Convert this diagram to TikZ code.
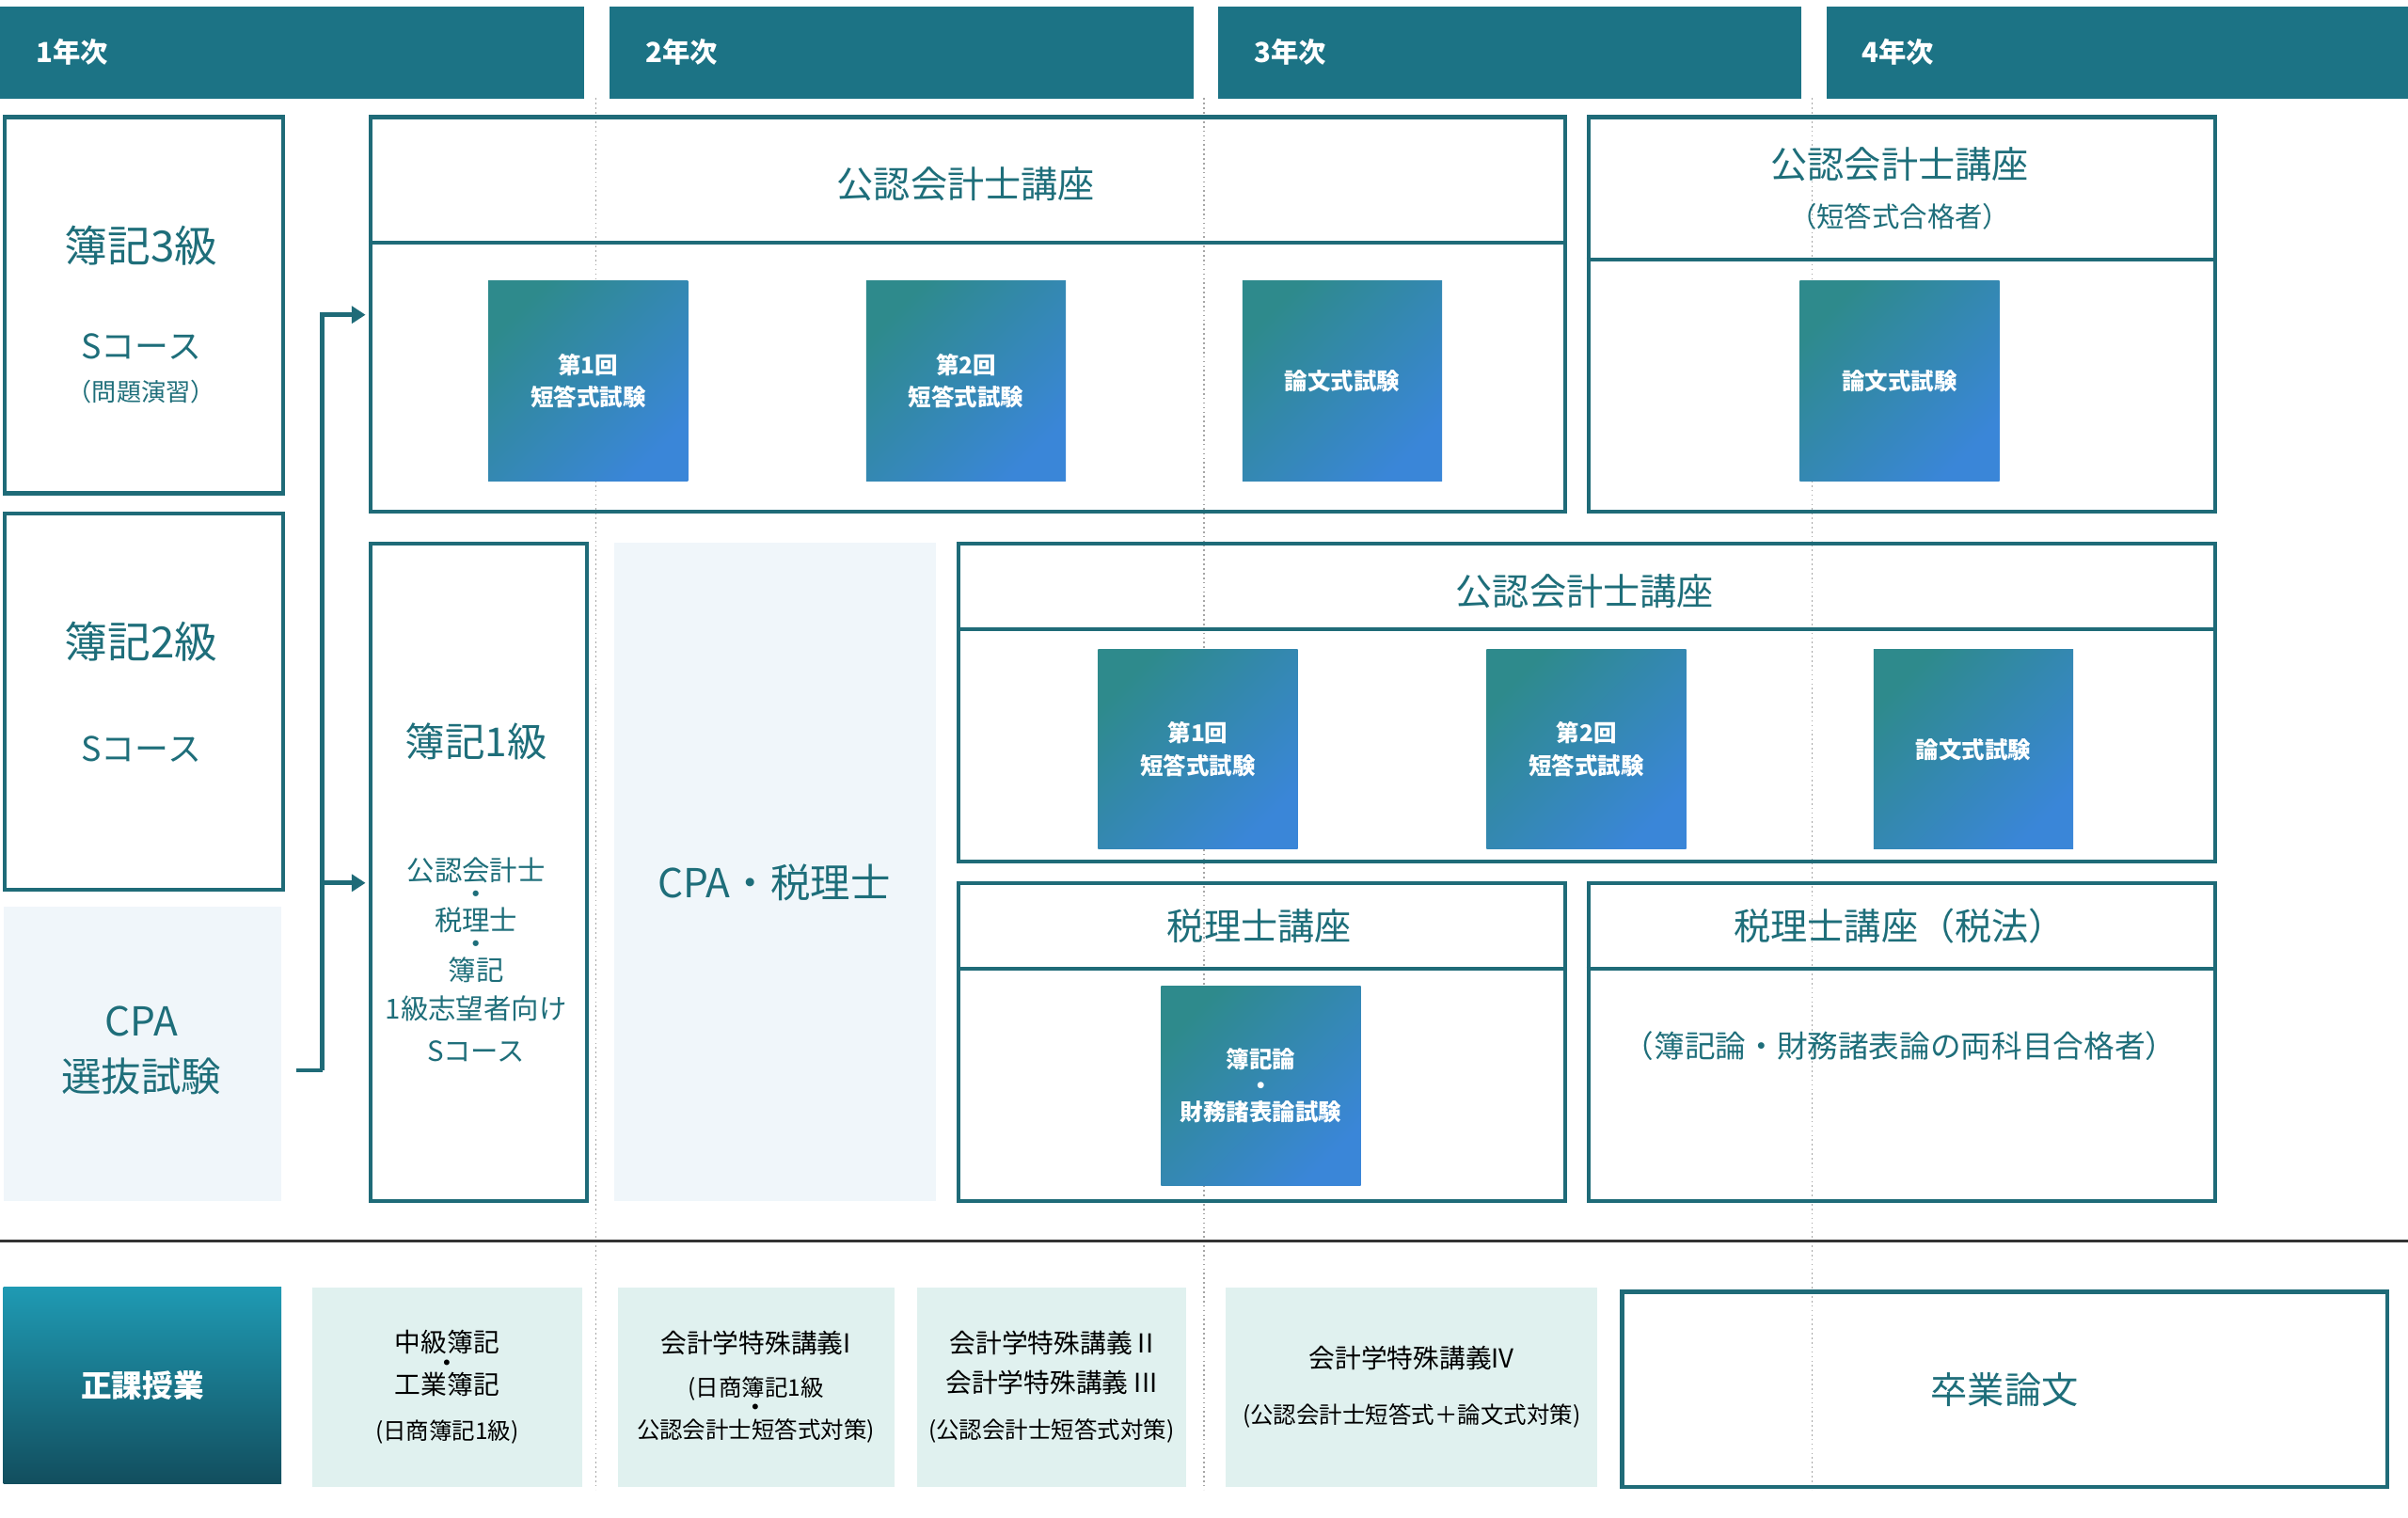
\documentclass[tikz,border=0pt]{standalone}
\usepackage{fontspec}
\setmainfont{Noto Sans CJK JP}
\usetikzlibrary{positioning,arrows.meta}
\definecolor{head}{HTML}{1C7385}
\definecolor{frm}{HTML}{1F6B78}
\definecolor{ink}{HTML}{1E6E7A}
\definecolor{pale}{HTML}{F0F6FA}
\definecolor{mint}{HTML}{E0F1EF}
\definecolor{sqA}{HTML}{2E8A8C}
\definecolor{sqB}{HTML}{3A86D8}
\definecolor{lecA}{HTML}{1F9AB3}
\definecolor{lecB}{HTML}{124E5E}
\newcommand\sz[1]{\fontsize{#1pt}{\dimexpr#1pt*14/10\relax}\selectfont}
\tikzset{
  frame/.style={draw=frm, line width=2.5pt, anchor=north west, inner sep=0pt},
  yearbar/.style={fill=head, anchor=north west, inner sep=0pt, minimum height=60pt},
  exam/.style={shade, left color=sqA, right color=sqB, shading angle=45, minimum width=130pt,
    minimum height=130pt, inner sep=0pt, text=white, font=\sz{15}\bfseries, align=center},
  ttl/.style={text=ink, align=center},
  lec/.style={fill=mint, anchor=north west, inner sep=0pt, minimum height=130pt},
}
\begin{document}
\begin{tikzpicture}[x=1pt,y=-1pt]
\useasboundingbox (0,0) rectangle (1568,988);
% year headers
\foreach \xx/\yr in {0/1,397/2,793/3,1189/4}{
  \node[yearbar, minimum width=380pt] (y\yr) at (\xx,4) {};
  \node[text=white, font=\sz{18}\bfseries, anchor=west] at (\xx+20,34) {\yr 年次};
}
\foreach \xx in {388,784,1180}
  \draw[gray!70, line width=1pt, dotted] (\xx,64) -- (\xx,970);

% left column
\node[frame, minimum width=181pt, minimum height=245pt] (b3) at (2,75) {};
\node[ttl, font=\sz{28}] at (92,160) {簿記3級};
\node[ttl, font=\sz{22}] at (92,226) {Sコース};
\node[ttl, font=\sz{16}] at (92,255) {（問題演習）};
\node[frame, minimum width=181pt, minimum height=245pt] (b2) at (2,333) {};
\node[ttl, font=\sz{28}] at (92,418) {簿記2級};
\node[ttl, font=\sz{22}] at (92,488) {Sコース};
\node[fill=pale, anchor=north west, minimum width=181pt, minimum height=192pt, inner sep=0pt] (cpa) at (2,590) {};
\node[ttl, font=\sz{26}] at (92,684) {CPA\\選抜試験};

% arrows
\coordinate (fork) at (210,697);
\coordinate (up) at (210,205);
\coordinate (mid) at (210,575);
\draw[frm, line width=3pt] (193,697) -- (fork);
\draw[frm, line width=3pt, -{Triangle[length=9pt,width=11pt]}] (fork) -- (up) -- (238,205);
\draw[frm, line width=3pt, -{Triangle[length=9pt,width=11pt]}] (mid) -- (238,575);

% CPA course (top)
\node[frame, minimum width=778pt, minimum height=257pt] (cpaA) at (240,75) {};
\draw[frm, line width=2.5pt] (240,158) -- (1018,158);
\node[ttl, font=\sz{24}] at (629,120) {公認会計士講座};
\node[exam] (a1) at (383,248) {第1回\\短答式試験};
\node[exam] (a2) at (629,248) {第2回\\短答式試験};
\node[exam] (a3) at (874,248) {論文式試験};
\node[frame, minimum width=408pt, minimum height=257pt] (cpaB) at (1033,75) {};
\draw[frm, line width=2.5pt] (1033,169) -- (1441,169);
\node[ttl, font=\sz{24}] at (1237,107) {公認会計士講座};
\node[ttl, font=\sz{18}] at (1237,141) {（短答式合格者）};
\node[exam] (b4) at (1237,248) {論文式試験};

% 簿記1級
\node[frame, minimum width=141pt, minimum height=428pt] (b1) at (240,353) {};
\node[ttl, font=\sz{26}] at (310,483) {簿記1級};
\node[ttl, font=\sz{18}] at (310,625) {公認会計士\\[-10pt]・\\[-8pt]税理士\\[-10pt]・\\[-8pt]簿記\\1級志望者向け\\[2pt]Sコース};
\node[fill=pale, anchor=north west, minimum width=209pt, minimum height=429pt, inner sep=0pt] (both) at (400,353) {};
\node[ttl, font=\sz{26}] at (504,575) {CPA・税理士};

% CPA course (middle)
\node[frame, minimum width=818pt, minimum height=207pt] (cpaC) at (623,353) {};
\draw[frm, line width=2.5pt] (623,410) -- (1441,410);
\node[ttl, font=\sz{24}] at (1032,385) {公認会計士講座};
\node[exam] (c1) at (780,488) {第1回\\短答式試験};
\node[exam] (c2) at (1033,488) {第2回\\短答式試験};
\node[exam] (c3) at (1285,488) {論文式試験};

% tax courses
\node[frame, minimum width=395pt, minimum height=207pt] (tax) at (623,574) {};
\draw[frm, line width=2.5pt] (623,631) -- (1018,631);
\node[ttl, font=\sz{24}] at (820,603) {税理士講座};
\node[exam] (t1) at (821,707) {簿記論\\[-4pt]・\\[-4pt]財務諸表論試験};
\node[frame, minimum width=408pt, minimum height=207pt] (taxB) at (1033,574) {};
\draw[frm, line width=2.5pt] (1033,631) -- (1441,631);
\node[ttl, font=\sz{24}] at (1237,603) {税理士講座（税法）};
\node[ttl, font=\sz{20}] at (1237,681) {（簿記論・財務諸表論の両科目合格者）};

% regular classes
\draw[black!80, line width=2pt] (0,808) -- (1568,808);
\node[shade, top color=lecA, bottom color=lecB, anchor=north west, minimum width=181pt,
  minimum height=128pt, inner sep=0pt, text=white, font=\sz{20}\bfseries] (reg) at (2,838) {正課授業};
\node[lec, minimum width=176pt] (l1) at (203,838) {};
\node[font=\sz{17}, align=center] at (l1) {中級簿記\\[-10pt]・\\[-10pt]工業簿記\\[6pt]{\sz{15}(日商簿記1級)}};
\node[lec, minimum width=180pt] (l2) at (402,838) {};
\node[font=\sz{17}, align=center] at (l2) {会計学特殊講義I\\[4pt]{\sz{15}(日商簿記1級}\\[-10pt]・\\[-10pt]{\sz{15}公認会計士短答式対策)}};
\node[lec, minimum width=175pt] (l3) at (597,838) {};
\node[font=\sz{17}, align=center] at (l3) {会計学特殊講義 II\\[2pt]会計学特殊講義 III\\[6pt]{\sz{15}(公認会計士短答式対策)}};
\node[lec, minimum width=242pt] (l4) at (798,838) {};
\node[font=\sz{17}, align=center] at (l4) {会計学特殊講義IV\\[12pt]{\sz{15}(公認会計士短答式＋論文式対策)}};
\node[frame, minimum width=498pt, minimum height=127pt] (thesis) at (1055,840) {};
\node[ttl, font=\sz{24}] at (thesis) {卒業論文};
\end{tikzpicture}
\end{document}
